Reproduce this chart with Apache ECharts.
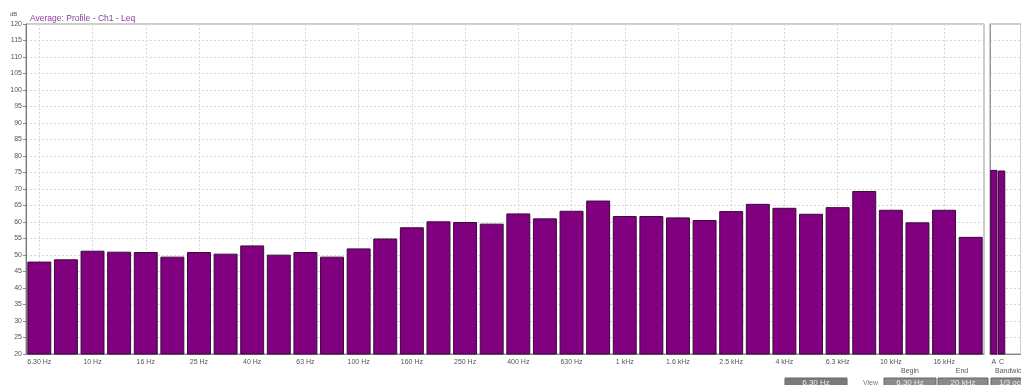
<!DOCTYPE html>
<html>
<head>
<meta charset="utf-8">
<script src="https://cdn.jsdelivr.net/npm/echarts@6/dist/echarts.min.js"></script>
<style>
  html, body { margin: 0; padding: 0; background: #fff; }
  #chart { width: 1021px; height: 385px; }
</style>
</head>
<body>
<div id="chart"></div>
<script>
// 1/3 octave bands
const bands = ['6.30 Hz', '8 Hz', '10 Hz', '12.5 Hz', '16 Hz', '20 Hz', '25 Hz', '31.5 Hz', '40 Hz', '50 Hz',
  '63 Hz', '80 Hz', '100 Hz', '125 Hz', '160 Hz', '200 Hz', '250 Hz', '315 Hz', '400 Hz', '500 Hz',
  '630 Hz', '800 Hz', '1 kHz', '1.25 kHz', '1.6 kHz', '2 kHz', '2.5 kHz', '3.15 kHz', '4 kHz', '5 kHz',
  '6.3 kHz', '8 kHz', '10 kHz', '12.5 kHz', '16 kHz', '20 kHz']
const leq = [48.0, 48.7, 51.3, 51.0, 50.9, 49.5, 50.9, 50.4, 52.9, 50.1,
  50.9, 49.5, 52.0, 55.0, 58.4, 60.2, 60.0, 59.5, 62.6, 61.1,
  63.4, 66.5, 61.8, 61.8, 61.4, 60.6, 63.3, 65.5, 64.3, 62.5,
  64.5, 69.4, 63.7, 59.9, 63.7, 55.5]

// weighted totals panel
const weightings = ['A', 'C', '', '']
const totals = [75.8, 75.6, null, null]

const yTicks = { min: 20, max: 120, interval: 5 }

const chart = echarts.init(document.getElementById('chart'))

const gridLine = { show: true, lineStyle: { color: '#d8d8d8', type: [2, 2], width: 1 } }
const axisGray = { lineStyle: { color: '#888', width: 1 } }
const barStyle = { color: '#800080', borderColor: '#3a0a3a', borderWidth: 1 }

const boxText = (x, w, label, fill) => ({
  type: 'group',
  children: [
    { type: 'rect', shape: { x: x, y: 378, width: w, height: 12 }, style: { fill: fill, stroke: '#666', lineWidth: 1 } },
    { type: 'text', style: { x: x + w / 2, y: 379, text: label, fill: '#eee', font: '8px "Liberation Sans", Arial', textAlign: 'center' } }
  ]
})

const option = {
  backgroundColor: '#fff',
  animation: false,
  textStyle: { fontFamily: '"Liberation Sans", Arial, sans-serif' },
  grid: [
    { left: 26, top: 24, right: 37, bottom: 31, show: true, borderColor: '#999', borderWidth: 1 },
    { left: 990, top: 24, width: 38, bottom: 31, show: true, borderColor: '#999', borderWidth: 1 }
  ],
  xAxis: [
    {
      type: 'category', gridIndex: 0, data: bands,
      axisLine: axisGray,
      axisTick: { alignWithLabel: true, interval: 1, length: 3, lineStyle: { color: '#888' } },
      axisLabel: { interval: 1, fontSize: 7, color: '#555', margin: 5 },
      splitLine: Object.assign({ interval: 1, alignWithLabel: true }, gridLine)
    },
    {
      type: 'category', gridIndex: 1, data: weightings,
      axisLine: axisGray,
      axisTick: { alignWithLabel: true, length: 3, lineStyle: { color: '#888' } },
      axisLabel: { interval: 0, fontSize: 7, color: '#555', margin: 5 },
      splitLine: { show: false }
    }
  ],
  yAxis: [
    {
      type: 'value', gridIndex: 0, min: yTicks.min, max: yTicks.max, interval: yTicks.interval,
      axisLine: { show: true, lineStyle: { color: '#777', width: 1 } },
      axisTick: { show: true, length: 3, lineStyle: { color: '#888' } },
      axisLabel: { fontSize: 7, color: '#555', margin: 4 },
      splitLine: gridLine
    },
    {
      type: 'value', gridIndex: 1, min: yTicks.min, max: yTicks.max, interval: yTicks.interval,
      axisLine: { show: true, lineStyle: { color: '#999', width: 1 } },
      axisTick: { show: false },
      axisLabel: { show: false },
      splitLine: gridLine
    }
  ],
  series: [
    {
      name: 'Leq', type: 'bar', xAxisIndex: 0, yAxisIndex: 0,
      data: leq, barCategoryGap: '10%', itemStyle: barStyle
    },
    {
      name: 'Total', type: 'bar', xAxisIndex: 1, yAxisIndex: 1,
      data: totals, barCategoryGap: '6%', itemStyle: barStyle
    }
  ],
  graphic: [
    { type: 'text', left: 10, top: 11, style: { text: 'dB', fill: '#555', font: '6px "Liberation Sans", Arial' } },
    { type: 'text', left: 30, top: 14, style: { text: 'Average: Profile - Ch1 - Leq', fill: '#8a3d99', font: '8.5px "Liberation Sans", Arial' } },
    { type: 'text', style: { x: 910, y: 368, text: 'Begin', fill: '#555', font: '7px "Liberation Sans", Arial', textAlign: 'center' } },
    { type: 'text', style: { x: 962, y: 368, text: 'End', fill: '#555', font: '7px "Liberation Sans", Arial', textAlign: 'center' } },
    { type: 'text', style: { x: 995, y: 368, text: 'Bandwidth', fill: '#555', font: '7px "Liberation Sans", Arial' } },
    { type: 'text', style: { x: 863, y: 380, text: 'View', fill: '#777', font: '7px "Liberation Sans", Arial' } },
    boxText(785, 62, '6.30 Hz', '#7a7a7a'),
    boxText(884, 52, '6.30 Hz', '#8a8a8a'),
    boxText(938, 50, '20 kHz', '#8a8a8a'),
    boxText(991, 40, '1/3 oct', '#8a8a8a')
  ]
}

chart.setOption(option)
</script>
</body>
</html>
